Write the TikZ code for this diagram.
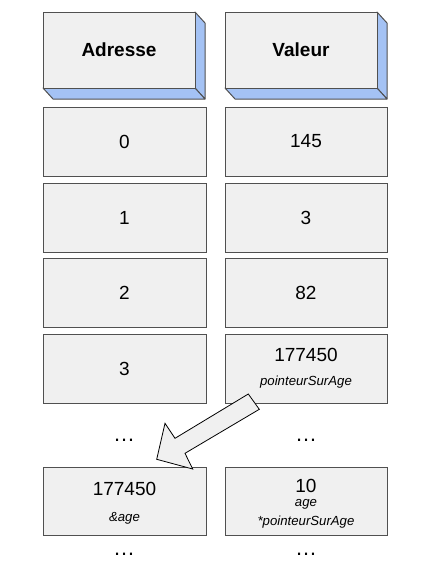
\documentclass[tikz,border=0pt]{standalone}
\usepackage{fontspec}
\setmainfont{Liberation Sans}
\definecolor{boxfill}{HTML}{F0F0F0}
\definecolor{boxline}{HTML}{505050}
\definecolor{sidefill}{HTML}{A4C2F4}
\begin{document}
\begin{tikzpicture}[x=1pt,y=-1pt,
  cell/.style={draw=boxline, fill=boxfill, line width=1pt, minimum height=69pt, inner sep=0pt, font=\fontsize{19}{21}\selectfont},
  lcell/.style={cell, minimum width=163pt},
  rcell/.style={cell, minimum width=162pt},
  head/.style={draw=boxline, fill=boxfill, line width=1pt, minimum width=152pt, minimum height=76pt, inner sep=0pt, font=\fontsize{19}{21}\selectfont\bfseries},
  side/.style={draw=boxline, fill=sidefill, line width=1pt, line join=round},
  big/.style={inner sep=0pt, font=\fontsize{19}{21}\selectfont},
  small/.style={inner sep=0pt, font=\fontsize{13.2}{15}\selectfont\itshape},
  dots/.style={inner sep=0pt, font=\fontsize{22}{24}\selectfont},
  blockarrow/.style={draw=black, fill=boxfill, line width=0.8pt, line join=miter}]
\useasboundingbox (0,0) rectangle (429,568);

% header boxes (3D)
\draw[side] (195,12) -- (205,23) -- (205,99) -- (195,88) -- cycle;
\draw[side] (43,88) -- (195,88) -- (205,99) -- (53,99) -- cycle;
\node[head] (hA) at (119,50) {Adresse};
\draw[side] (377,12) -- (387,23) -- (387,99) -- (377,88) -- cycle;
\draw[side] (225,88) -- (377,88) -- (387,99) -- (235,99) -- cycle;
\node[head] (hV) at (301,50) {Valeur};

% rows
\node[lcell] (a0) at (124.5,141.5) {0};
\node[rcell] (v0) at (306,141.5) {145};
\node[lcell] (a1) at (124.5,217.5) {1};
\node[rcell] (v1) at (306,217.5) {3};
\node[lcell] (a2) at (124.5,293) {2};
\node[rcell] (v2) at (306,293) {82};
\node[lcell] (a3) at (124.5,368.5) {3};
\node[rcell] (v3) at (306,368.5) {};
\node[big] (v3n) at (306,355) {177450};
\node[small] (v3l) at (306,382) {pointeurSurAge};

\node[dots] (d1) at (124,440) {…};
\node[dots] (d2) at (306,440) {…};

\node[lcell, minimum height=68pt] (ax) at (124.5,501) {};
\node[big] (axn) at (124.5,489) {177450};
\node[small] (axl) at (124.5,518) {\&age};
\node[rcell, minimum height=68pt] (vx) at (306,501) {};
\node[big] (vxn) at (306,486) {10};
\node[small] (vxl1) at (306,504) {age};
\node[small] (vxl2) at (306,522) {*pointeurSurAge};

\node[dots] (d3) at (124,554) {…};
\node[dots] (d4) at (306,554) {…};

% block arrow
\draw[blockarrow] (248.3,394) -- (175,438.3) -- (165,423.3) -- (156.7,459.3)
  -- (192.7,469) -- (185,453.3) -- (259.3,409.3) -- cycle;
\end{tikzpicture}
\end{document}
